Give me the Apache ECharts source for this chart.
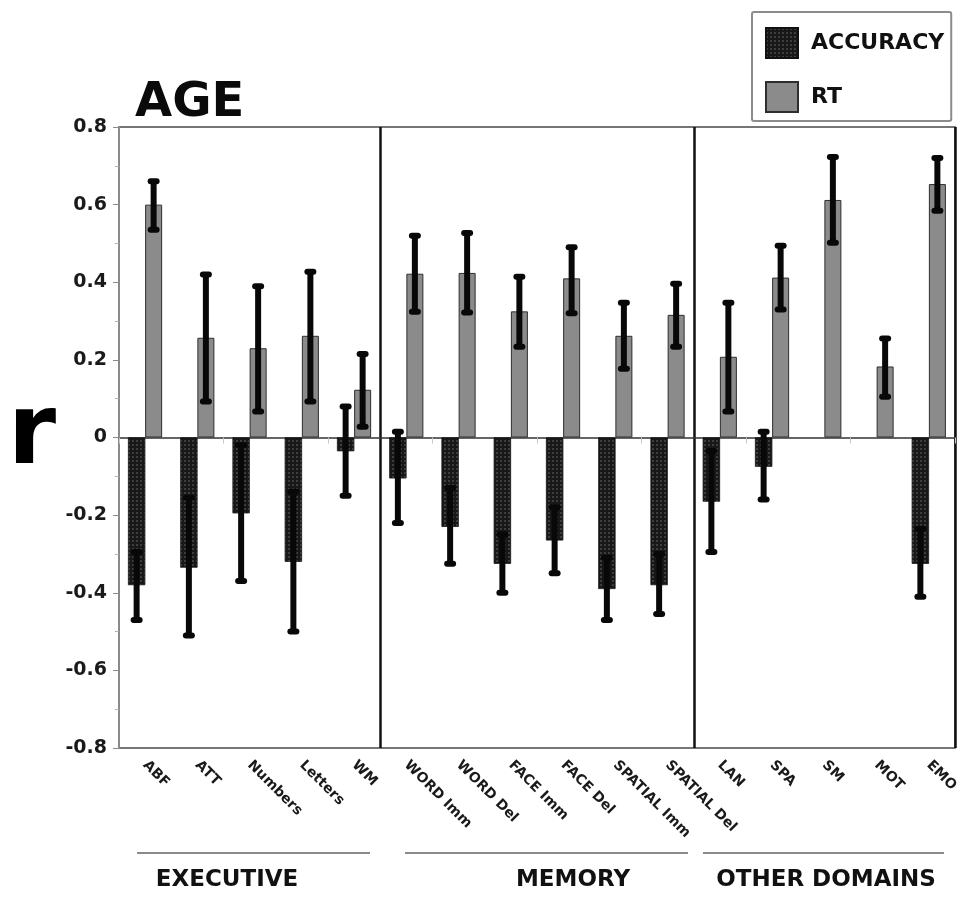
<!DOCTYPE html>
<html>
<head>
<meta charset="utf-8">
<title>AGE</title>
<script src="https://cdn.jsdelivr.net/npm/echarts@6/dist/echarts.min.js"></script>
<style>
	html, body { margin: 0; padding: 0; background: #fff; }
	#main { width: 966px; height: 902px; }
</style>
</head>
<body>
<div id="main"></div>
<script>
// --- data ---
var categories = ['ABF', 'ATT', 'Numbers', 'Letters', 'WM',
	'WORD Imm', 'WORD Del', 'FACE Imm', 'FACE Del', 'SPATIAL Imm', 'SPATIAL Del',
	'LAN', 'SPA', 'SM', 'MOT', 'EMO'];
var accuracy     = [-0.38, -0.335, -0.195, -0.32, -0.035, -0.105, -0.23, -0.325, -0.265, -0.39, -0.38, -0.165, -0.075, null, null, -0.325];
var accuracyLow  = [-0.47, -0.51, -0.37, -0.50, -0.15, -0.22, -0.325, -0.40, -0.35, -0.47, -0.455, -0.295, -0.16, null, null, -0.41];
var accuracyHigh = [-0.295, -0.155, -0.02, -0.14, 0.08, 0.015, -0.13, -0.25, -0.18, -0.31, -0.30, -0.035, 0.015, null, null, -0.235];
var rt     = [0.60, 0.257, 0.23, 0.262, 0.123, 0.422, 0.424, 0.325, 0.41, 0.262, 0.316, 0.208, 0.412, 0.612, 0.183, 0.653];
var rtLow  = [0.535, 0.093, 0.067, 0.093, 0.028, 0.324, 0.322, 0.234, 0.32, 0.177, 0.234, 0.067, 0.33, 0.502, 0.105, 0.584];
var rtHigh = [0.66, 0.42, 0.39, 0.427, 0.215, 0.52, 0.527, 0.414, 0.49, 0.347, 0.396, 0.347, 0.494, 0.723, 0.255, 0.72];
var groupNames = ['EXECUTIVE', 'MEMORY', 'OTHER DOMAINS'];
var groupBreaks = [5, 11]; // index of first category of the next group

// --- styles ---
var FONT = 'DejaVu Sans';
var BAR_W = 17;
var LINE_W = 6;
var CAP_W = 12;

function errData(low, high) {
	var out = [];
	for (var i = 0; i < low.length; i++) {
		if (low[i] != null) out.push([i, low[i], high[i]]);
	}
	return out;
}

function errRender(side) {
	return function (params, api) {
		var i = api.value(0);
		var pLo = api.coord([i, api.value(1)]);
		var pHi = api.coord([i, api.value(2)]);
		var x = pLo[0] + side * BAR_W / 2;
		var fill = { fill: '#080808' };
		return {
			type: 'group',
			children: [
				{ type: 'rect', shape: { x: x - LINE_W / 2, y: pHi[1], width: LINE_W, height: pLo[1] - pHi[1] }, style: fill },
				{ type: 'rect', shape: { x: x - CAP_W / 2, y: pHi[1] - 3, width: CAP_W, height: 6, r: 3 }, style: fill },
				{ type: 'rect', shape: { x: x - CAP_W / 2, y: pLo[1] - 3, width: CAP_W, height: 6, r: 3 }, style: fill }
			]
		};
	};
}

// group annotations under the axis (line span + label centre)
var groupSpans = [[137, 370], [405, 688], [703, 944]];
var groupCentres = [227, 573, 826];
var graphics = [];
groupNames.forEach(function (name, k) {
	graphics.push({
		type: 'line',
		shape: { x1: groupSpans[k][0], y1: 853, x2: groupSpans[k][1], y2: 853 },
		style: { stroke: '#8a8a8a', lineWidth: 2 }
	});
	graphics.push({
		type: 'text',
		x: groupCentres[k], y: 880,
		style: {
			text: name, fill: '#111', font: 'bold 23px "' + FONT + '"',
			textAlign: 'center', textVerticalAlign: 'middle'
		}
	});
});

var chart = echarts.init(document.getElementById('main'));
chart.setOption({
	animation: false,
	backgroundColor: '#fff',
	title: {
		text: 'AGE',
		left: 135, top: 80,
		padding: 0,
		textStyle: { fontFamily: FONT, fontSize: 48, fontWeight: 'bold', color: '#0a0a0a' }
	},
	legend: {
		data: [{ name: 'ACCURACY', icon: 'rect' }, { name: 'RT', icon: 'rect' }],
		orient: 'vertical',
		left: 752, top: 12,
		padding: [15, 7, 8, 13],
		itemWidth: 32, itemHeight: 30, itemGap: 22,
		borderColor: '#8c8c8c', borderWidth: 2, borderRadius: 2,
		selectedMode: false,
		textStyle: { fontFamily: FONT, fontSize: 22, fontWeight: 'bold', color: '#111', padding: [6, 0, 0, 8] }
	},
	grid: {
		left: 119, right: 11, top: 127, bottom: 154,
		show: true, borderColor: '#4a4a4a', borderWidth: 1.5
	},
	xAxis: [{
		type: 'category',
		data: categories,
		position: 'bottom',
		axisLine: { onZero: true, lineStyle: { color: '#333', width: 1.5 } },
		axisTick: { show: true, length: 6, lineStyle: { color: '#c8c8c8' } },
		axisLabel: { show: false },
		splitLine: {
			show: true,
			interval: function (index) { return groupBreaks.indexOf(index) >= 0; },
			lineStyle: { color: '#111', width: 2.5 }
		}
	}, {
		type: 'category',
		data: categories,
		position: 'bottom',
		axisLine: { show: false, onZero: false },
		axisTick: { show: false },
		axisLabel: {
			rotate: -45, margin: 15, interval: 0,
			fontFamily: FONT, fontSize: 14, fontWeight: 'bold', color: '#1a1a1a'
		}
	}],
	yAxis: {
		type: 'value',
		min: -0.8, max: 0.8, interval: 0.2,
		name: 'r',
		nameLocation: 'middle',
		nameRotate: 0,
		nameGap: 63,
		nameTextStyle: { fontFamily: FONT, fontSize: 98, fontWeight: 'bold', color: '#000', padding: [22, 0, 0, 0] },
		axisLine: { show: true, lineStyle: { color: '#8a8a8a', width: 2 } },
		axisTick: { show: true, length: 6, lineStyle: { color: '#8a8a8a' } },
		minorTick: { show: true, splitNumber: 2, length: 4, lineStyle: { color: '#b0b0b0' } },
		splitLine: { show: false },
		axisLabel: { margin: 12, fontFamily: FONT, fontSize: 19, fontWeight: 'bold', color: '#1a1a1a' }
	},
	series: [{
		name: 'ACCURACY',
		type: 'bar',
		data: accuracy,
		barWidth: BAR_W,
		barGap: '0%',
		itemStyle: {
			color: '#181818',
			borderColor: '#111', borderWidth: 0.5,
			decal: {
				symbol: 'circle', symbolSize: 0.75,
				color: 'rgba(255,255,255,0.42)',
				dashArrayX: [2, 1.5], dashArrayY: [2, 1.5]
			}
		},
		z: 2
	}, {
		name: 'RT',
		type: 'bar',
		data: rt,
		barWidth: BAR_W,
		barGap: '0%',
		itemStyle: { color: '#8b8b8b', borderColor: '#2e2e2e', borderWidth: 1 },
		z: 2
	}, {
		name: 'accuracy-err',
		type: 'custom',
		data: errData(accuracyLow, accuracyHigh),
		encode: { x: 0, y: [1, 2] },
		renderItem: errRender(-1),
		z: 5
	}, {
		name: 'rt-err',
		type: 'custom',
		data: errData(rtLow, rtHigh),
		encode: { x: 0, y: [1, 2] },
		renderItem: errRender(1),
		z: 5
	}],
	graphic: graphics
});
</script>
</body>
</html>
